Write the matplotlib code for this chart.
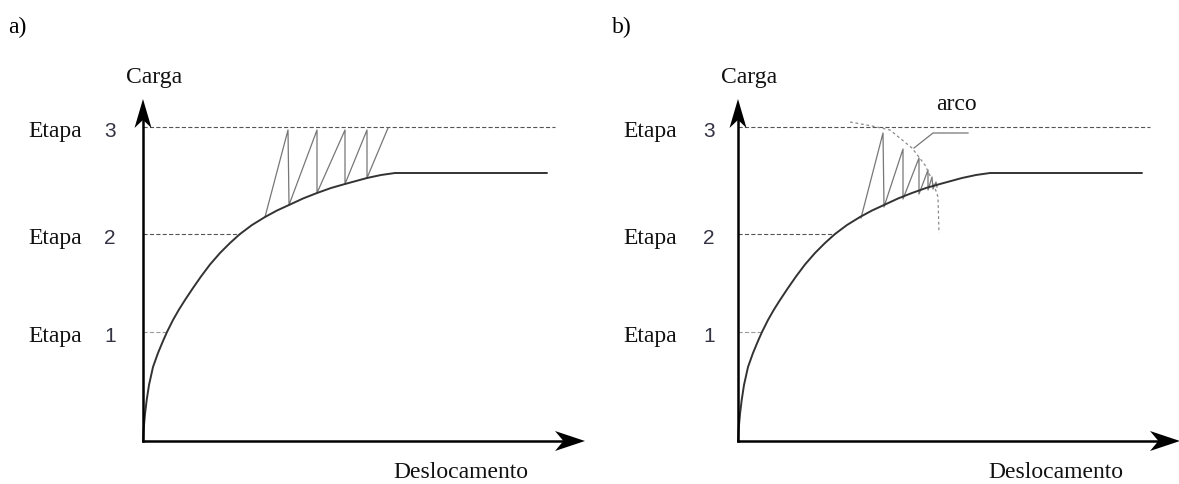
import numpy as np
import matplotlib
matplotlib.use("Agg")
import matplotlib.pyplot as plt

plt.rcParams['lines.scale_dashes'] = False

SERIF = "Liberation Serif"
SANS = "Liberation Sans"

# ── data (displacement, load) in drawing units ────────────────────────────────
ETAPA_LABELS = ["1", "2", "3"]
ETAPA_LOADS = [1.09, 2.07, 3.14]
ETAPA_REACH = [0.24, 0.97, 4.12]       # where each dashed level line stops

CURVE_D = [0.00, 0.005, 0.01, 0.02, 0.037, 0.06, 0.10, 0.15, 0.20, 0.24,
           0.30, 0.36, 0.42, 0.50, 0.58, 0.67, 0.77, 0.87, 0.97, 1.09,
           1.22, 1.34, 1.46, 1.60, 1.74, 1.88, 2.02, 2.13, 2.24, 2.38,
           2.52, 4.04]
CURVE_P = [0.00, 0.10, 0.16, 0.27, 0.41, 0.56, 0.74, 0.88, 1.00, 1.09,
           1.21, 1.315, 1.41, 1.53, 1.645, 1.765, 1.88, 1.98, 2.07, 2.16,
           2.24, 2.305, 2.36, 2.425, 2.48, 2.53, 2.57, 2.60, 2.63, 2.66,
           2.68, 2.68]

# a) Newton-Raphson with constant load increment
NR_D = [1.22, 1.45, 1.46, 1.74, 1.74, 2.02, 2.02, 2.24, 2.24, 2.45]
NR_P = [2.24, 3.11, 2.36, 3.11, 2.48, 3.11, 2.57, 3.11, 2.63, 3.13]

# b) arc-length iterations
ARC_IT_D = [1.23, 1.45, 1.46, 1.65, 1.65, 1.81, 1.81, 1.90, 1.90, 1.94,
            1.95, 1.98, 1.99]
ARC_IT_P = [2.23, 3.08, 2.34, 2.92, 2.42, 2.83, 2.47, 2.71, 2.51, 2.64,
            2.52, 2.59, 2.54]

ARC_D = [1.12, 1.34, 1.52, 1.74, 1.87, 1.95, 2.00, 2.01]
ARC_P = [3.19, 3.15, 3.11, 2.93, 2.76, 2.59, 2.44, 2.08]

LEADER_D = [1.76, 1.95, 2.30]
LEADER_P = [2.93, 3.08, 3.08]

X_TIP = 4.42
Y_TIP = 3.42

W, H = 1179, 484
fig = plt.figure(figsize=(W / 100, H / 100), dpi=100)
fig.patch.set_facecolor("white")


def make_axes(left_px, right_px, origin_px):
    ax = fig.add_axes([left_px / W, 0, (right_px - left_px) / W, 1])
    ax.set_xlim((left_px - origin_px) / 100, (right_px - origin_px) / 100)
    ax.set_ylim((441 - H) / 100, 441 / 100)
    ax.axis("off")
    return ax


def stealth(ax, tip, direction, length, half):
    tx, ty = tip
    dx, dy = direction
    nx, ny = -dy, dx
    pts = [(tx, ty),
           (tx - dx * length + nx * half, ty - dy * length + ny * half),
           (tx - dx * length * 0.72, ty - dy * length * 0.72),
           (tx - dx * length - nx * half, ty - dy * length - ny * half)]
    xs, ys = zip(*pts)
    ax.fill(xs, ys, color="black", lw=0, zorder=6, clip_on=False)


def draw_panel(ax, tag, num_off):
    # level lines
    for lab, p, reach in zip(ETAPA_LABELS, ETAPA_LOADS, ETAPA_REACH):
        col = "#9a9a9a" if lab == "1" else "#555555"
        ax.plot([0, reach], [p, p], color=col, lw=0.8, dashes=(3, 1.6),
                zorder=2, clip_on=False)
        ax.text(-1.15, p - 0.10, "Etapa", family=SERIF, fontsize=17,
                ha="left", va="baseline", color="#111111")
        ax.text(-num_off, p - 0.10, lab, family=SANS, fontsize=15,
                ha="center", va="baseline", color="#333344")

    ax.plot(CURVE_D, CURVE_P, color="#333333", lw=1.4, zorder=4,
            solid_joinstyle="round", solid_capstyle="round")

    # axes with arrows
    ax.plot([0, 0], [0, Y_TIP - 0.2], color="black", lw=1.8, zorder=5,
            solid_capstyle="projecting", clip_on=False)
    ax.plot([0, X_TIP - 0.2], [0, 0], color="black", lw=1.8, zorder=5,
            solid_capstyle="projecting", clip_on=False)
    stealth(ax, (0, Y_TIP), (0, 1), 0.29, 0.085)
    stealth(ax, (X_TIP, 0), (1, 0), 0.30, 0.10)

    ax.text(0.11, 3.58, "Carga", family=SERIF, fontsize=17,
            ha="center", va="baseline", color="#111111")
    ax.text(3.85, -0.37, "Deslocamento", family=SERIF, fontsize=17,
            ha="right", va="baseline", color="#111111")
    ax.text(tag[1], 4.08, tag[0], family=SERIF, fontsize=17,
            ha="left", va="baseline", color="black")


ax_a = make_axes(0, 595, 143)
draw_panel(ax_a, ("a)", -1.35), 0.33)
ax_a.plot(NR_D, NR_P, color="#777777", lw=0.9, zorder=3)

ax_b = make_axes(595, W, 738)
draw_panel(ax_b, ("b)", -1.26), 0.29)
ax_b.plot(ARC_IT_D, ARC_IT_P, color="#777777", lw=0.9, zorder=3)
ax_b.plot(ARC_D, ARC_P, color="#8a8a8a", lw=0.9, dashes=(2, 2), zorder=3)
ax_b.plot(LEADER_D, LEADER_P, color="#777777", lw=0.9, zorder=3)
ax_b.text(1.98, 3.31, "arco", family=SERIF, fontsize=17,
          ha="left", va="baseline", color="#111111")

fig.savefig("out.png", dpi=100, facecolor="white")
